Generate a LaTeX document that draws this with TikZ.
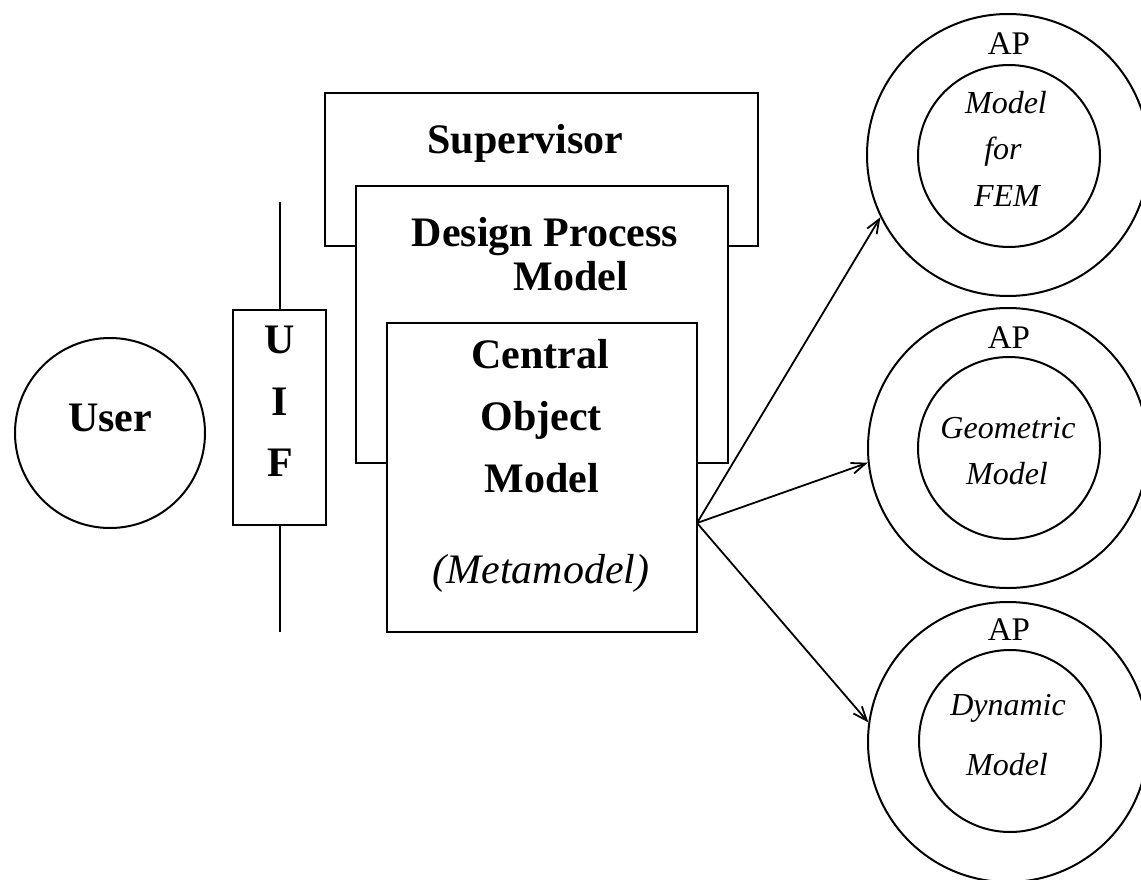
\documentclass[tikz,border=0pt]{standalone}
\usepackage{fontspec}
\setmainfont{Liberation Serif}
\usetikzlibrary{arrows.meta}

\tikzset{
  box/.style={draw, line width=2.2pt, fill=white, rectangle, inner sep=0pt},
  ring/.style={draw, line width=2pt, circle, inner sep=0pt},
  bigtxt/.style={font=\fontsize{42}{50}\selectfont\bfseries, inner sep=0pt, anchor=base},
  itxt/.style={font=\fontsize{32}{38}\selectfont\itshape, inner sep=0pt, anchor=base},
  aptxt/.style={font=\fontsize{33}{40}\selectfont, inner sep=0pt, anchor=base},
  link/.style={line width=1.8pt, -{Straight Barb[length=14pt,width=11pt,line width=1.8pt]}}
}

\begin{document}
\begin{tikzpicture}[x=1pt, y=-1pt]
\useasboundingbox (0,0) rectangle (1141,880);
\clip (0,0) rectangle (1141,880);

% interface bar with its line
\coordinate (bartop) at (280,202);
\coordinate (barbot) at (280,632);
\draw[line width=2pt] (bartop) -- (barbot);
\node[box, minimum width=93pt, minimum height=215pt] (uif) at (279.5,417.5) {};
\node[bigtxt] (u) at (280,353) {U};
\node[bigtxt] (i) at (280,415) {I};
\node[bigtxt] (f) at (280,476) {F};

% user
\node[ring, minimum size=190pt] (user) at (110,433) {};
\node[bigtxt] (usertxt) at (110,431) {User};

% stacked boxes
\node[box, minimum width=433pt, minimum height=153pt] (sup) at (541.5,169.5) {};
\node[box, minimum width=372pt, minimum height=277pt] (dpm) at (542,324.5) {};
\node[box, minimum width=310pt, minimum height=309pt] (com) at (542,477.5) {};

\node[bigtxt] (suptxt) at (525.5,154) {Supervisor};
\node[bigtxt] (dpmtxt1) at (545,246) {Design Process};
\node[bigtxt] (dpmtxt2) at (571,290) {Model};
\node[bigtxt] (comtxt1) at (540,368) {Central};
\node[bigtxt] (comtxt2) at (541,430) {Object};
\node[bigtxt] (comtxt3) at (542,492) {Model};
\node[font=\fontsize{42}{50}\selectfont\itshape, inner sep=0pt, anchor=base] (meta) at (541,583) {(Metamodel)};

% application protocols
\node[ring, minimum size=282pt] (ap1) at (1008,155) {};
\node[ring, minimum size=182pt] (ap1in) at (1009,156) {};
\node[aptxt] (ap1lab) at (1009,55) {AP};
\node[itxt] (ap1a) at (1006,114) {Model};
\node[itxt] (ap1b) at (1003,160) {for};
\node[itxt] (ap1c) at (1007,207) {FEM};

\node[ring, minimum size=280pt] (ap2) at (1008,448) {};
\node[ring, minimum size=182pt] (ap2in) at (1009,448) {};
\node[aptxt] (ap2lab) at (1009,348) {AP};
\node[itxt] (ap2a) at (1008,438) {Geometric};
\node[itxt] (ap2b) at (1007,484) {Model};

\node[ring, minimum size=280pt] (ap3) at (1008,742) {};
\node[ring, minimum size=182pt] (ap3in) at (1010,741) {};
\node[aptxt] (ap3lab) at (1009,640) {AP};
\node[itxt] (ap3a) at (1008,715) {Dynamic};
\node[itxt] (ap3b) at (1007,775) {Model};

% connectors from the central model
\coordinate (hub) at (697,523);
\draw[link] (hub) -- (ap1.206);
\draw[link] (hub) -- (ap2.186);
\draw[link] (hub) -- (ap3.172);
\end{tikzpicture}
\end{document}
